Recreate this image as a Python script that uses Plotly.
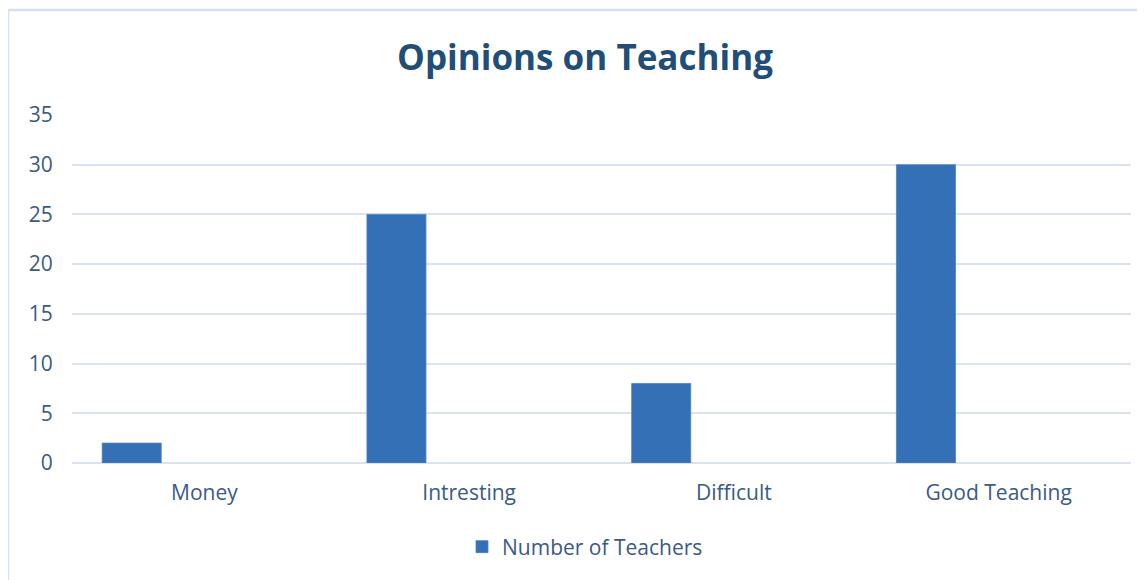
import plotly.graph_objects as go

categories = ["Money", "Intresting", "Difficult", "Good Teaching"]
teachers = [2, 25, 8, 30]
series_name = "Number of Teachers"
y_ticks = [0, 5, 10, 15, 20, 25, 30, 35]

# page body has an 8px margin, so target screen coordinates are shifted by -8
OFF = 8
W, H = 1145 - OFF, 580 - OFF
ML, MR, MT, MB = 72 - OFF, 14, 115 - OFF, 117
PW, PH = W - ML - MR, H - MT - MB

text_col = "#3B5A84"
grid_col = "#D9E3F1"
font_fam = "'Open Sans', 'Noto Sans', sans-serif"


def px_x(sx):
    return (sx - OFF - ML) / PW


def px_y(sy):
    return 1 - (sy - OFF - MT) / PH


fig = go.Figure()
fig.add_trace(go.Bar(
    x=categories, y=teachers, name=series_name,
    width=0.223, offset=-0.386,
    marker=dict(color="#3470B6", line=dict(color="#4A80C2", width=0.8)),
    showlegend=True,
))

fig.update_layout(
    width=W, height=H,
    margin=dict(l=ML, r=MR, t=MT, b=MB),
    paper_bgcolor="white", plot_bgcolor="white",
    font=dict(family=font_fam, color=text_col, size=21),
    title=dict(text="<b>Opinions on Teaching</b>", x=(585 - OFF) / W, xanchor="center",
               y=1 - (58 - OFF) / H, yanchor="middle",
               font=dict(family=font_fam, size=35, color="#1F4E79")),
    xaxis=dict(showgrid=False, showline=False, zeroline=False,
               ticks="outside", ticklen=11, tickcolor="rgba(0,0,0,0)",
               tickfont=dict(size=21, color=text_col)),
    yaxis=dict(range=[0, 35], tickvals=y_ticks, showgrid=True, gridcolor=grid_col,
               gridwidth=1.5, zeroline=True, zerolinecolor=grid_col, zerolinewidth=1.5,
               showline=False, ticks="outside", ticklen=14, tickcolor="rgba(0,0,0,0)",
               tickfont=dict(size=21, color=text_col)),
    legend=dict(orientation="h", x=px_x(462), xanchor="left",
                y=px_y(547), yanchor="middle",
                font=dict(size=21, color=text_col), bgcolor="rgba(0,0,0,0)"),
    shapes=[
        dict(type="line", xref="paper", yref="paper",
             x0=px_x(8), x1=px_x(1150), y0=px_y(10), y1=px_y(10),
             line=dict(color="#D6E1F0", width=2.5)),
        dict(type="line", xref="paper", yref="paper",
             x0=px_x(8), x1=px_x(8), y0=px_y(10), y1=px_y(590),
             line=dict(color="#D6E1F0", width=2.5)),
    ],
)

fig.write_html("out.html")
